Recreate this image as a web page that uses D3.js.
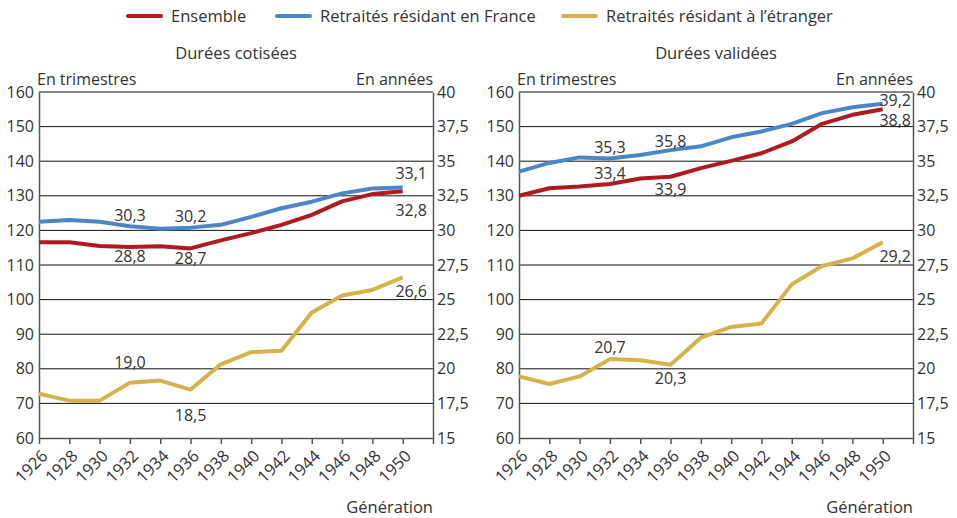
<!DOCTYPE html>
<html>
<head>
<meta charset="utf-8">
<script src="https://cdn.jsdelivr.net/npm/d3@7"></script>
<style>
  body { margin: 0; background: #fff; }
  svg text { font-family: "Open Sans", sans-serif; fill: #333; }
</style>
</head>
<body>
<div id="chart"></div>
<script>
// generations
var years = [1926, 1928, 1930, 1932, 1934, 1936, 1938, 1940, 1942, 1944, 1946, 1948, 1950];

// Durées cotisées (en trimestres)
var cot_ensemble = [116.6, 116.6, 115.5, 115.2, 115.4, 114.8, 117.1, 119.2, 121.6, 124.5, 128.4, 130.5, 131.3];
var cot_france   = [122.5, 123.0, 122.5, 121.2, 120.5, 120.8, 121.6, 123.9, 126.4, 128.3, 130.7, 132.1, 132.4];
var cot_etranger = [72.8, 70.8, 70.8, 76.0, 76.6, 74.0, 81.3, 84.8, 85.2, 96.3, 101.2, 102.8, 106.4];

// Durées validées (en trimestres)
var val_ensemble = [130.0, 132.2, 132.7, 133.4, 135.0, 135.5, 138.0, 140.1, 142.3, 145.7, 150.8, 153.4, 155.0];
var val_france   = [137.0, 139.5, 141.1, 140.8, 141.8, 143.2, 144.3, 146.9, 148.6, 150.8, 153.9, 155.6, 156.6];
var val_etranger = [77.8, 75.6, 77.8, 82.8, 82.5, 81.2, 89.0, 92.1, 93.1, 104.4, 109.7, 111.9, 116.6];

var yTicksLeft = [60, 70, 80, 90, 100, 110, 120, 130, 140, 150, 160];
var yTicksRight = ["15", "17,5", "20", "22,5", "25", "27,5", "30", "32,5", "35", "37,5", "40"];

var seriesNames = ["Ensemble", "Retraités résidant en France", "Retraités résidant à l’étranger"];
var colors = ["#b0191e", "#4a86c8", "#d5b24a"];

// value labels (in years): [series index, generation, text]
var cot_labels = [
  [1, 1932, "30,3"], [1, 1936, "30,2"], [1, 1950, "33,1"],
  [0, 1932, "28,8"], [0, 1936, "28,7"], [0, 1950, "32,8"],
  [2, 1932, "19,0"], [2, 1936, "18,5"], [2, 1950, "26,6"]
];
var val_labels = [
  [1, 1932, "35,3"], [1, 1936, "35,8"], [1, 1950, "39,2"],
  [0, 1932, "33,4"], [0, 1936, "33,9"], [0, 1950, "38,8"],
  [2, 1932, "20,7"], [2, 1936, "20,3"], [2, 1950, "29,2"]
];
// baseline offset from the line, in px, same order as the labels
var cot_dy = [-5, -6, -8, 15, 16, 25, -15, 31, 20];
var val_dy = [-5, -3, 2, -5, 18, 17, -6, 19, 20];

var W = 957, H = 518;
var fs = "16px";
var svg = d3.select("#chart").append("svg")
  .attr("width", W)
  .attr("height", H);

// legend
var legendX = [128, 277, 563];
seriesNames.forEach(function(name, i) {
  var g = svg.append("g").attr("transform", "translate(" + legendX[i] + ",16)");
  g.append("line")
    .attr("x1", 0).attr("x2", 33)
    .attr("stroke", colors[i])
    .attr("stroke-width", 4)
    .attr("stroke-linecap", "round");
  g.append("text")
    .attr("x", 43)
    .attr("dy", "0.36em")
    .style("font-size", "16.5px")
    .text(name);
});

var plotTop = 92, plotBottom = 438;

function drawPanel(left, right, title, data, labels, dys, endPad) {
  var x = d3.scaleLinear().domain([1926, 1952]).range([left, right]);
  var y = d3.scaleLinear().domain([60, 160]).range([plotBottom, plotTop]);

  var g = svg.append("g");

  g.append("text")
    .attr("x", (left + right) / 2)
    .attr("y", 59)
    .attr("text-anchor", "middle")
    .style("font-size", "16.5px")
    .text(title);

  g.append("text")
    .attr("x", left - 2)
    .attr("y", 85)
    .style("font-size", fs)
    .text("En trimestres");

  g.append("text")
    .attr("x", right)
    .attr("y", 85)
    .attr("text-anchor", "end")
    .style("font-size", fs)
    .text("En années");

  // gridlines
  g.selectAll(".grid")
    .data(yTicksLeft.slice(1))
    .enter()
    .append("line")
      .attr("x1", left).attr("x2", right)
      .attr("y1", function(d) { return y(d); })
      .attr("y2", function(d) { return y(d); })
      .attr("stroke", "#111")
      .attr("stroke-width", 1);

  // left axis
  var la = g.append("g")
    .attr("transform", "translate(" + left + ",0)")
    .call(d3.axisLeft(y).tickValues(yTicksLeft).tickSize(0).tickPadding(5));
  la.select(".domain").attr("stroke", "#555").attr("stroke-width", 1.5);
  la.selectAll("text").style("font-size", fs).attr("fill", "#333");

  // right axis
  var ra = g.append("g")
    .attr("transform", "translate(" + right + ",0)")
    .call(d3.axisRight(y).tickValues(yTicksLeft).tickSize(0).tickPadding(4)
      .tickFormat(function(d, i) { return yTicksRight[i]; }));
  ra.select(".domain").attr("stroke", "#555").attr("stroke-width", 1.5);
  ra.selectAll("text").style("font-size", fs).attr("fill", "#333");

  // bottom axis
  var ba = g.append("g")
    .attr("transform", "translate(0," + plotBottom + ")")
    .call(d3.axisBottom(x).tickValues(years.concat([1952])).tickSize(6).tickSizeOuter(0)
      .tickFormat(function(d) { return d === 1952 ? "" : d; }));
  ba.select(".domain").attr("stroke", "#555").attr("stroke-width", 1.5);
  ba.selectAll(".tick line").attr("stroke", "#555").attr("stroke-width", 1.5);
  ba.selectAll("text")
    .style("font-size", "16.5px")
    .attr("fill", "#333")
    .attr("x", 0)
    .attr("y", 0)
    .attr("dy", "0.35em")
    .style("text-anchor", "end")
    .attr("transform", "translate(5,15) rotate(-45)");

  g.append("text")
    .attr("x", right)
    .attr("y", 513)
    .attr("text-anchor", "end")
    .style("font-size", "16.5px")
    .text("Génération");

  var line = d3.line()
    .x(function(d, i) { return x(years[i]); })
    .y(function(d) { return y(d); });

  [2, 0, 1].forEach(function(s) {
    g.append("path")
      .datum(data[s])
      .attr("fill", "none")
      .attr("stroke", colors[s])
      .attr("stroke-width", 4)
      .attr("stroke-linejoin", "round")
      .attr("d", line);
  });

  labels.forEach(function(l, i) {
    var v = data[l[0]][years.indexOf(l[1])];
    var xx = x(l[1]);
    var anchor = "middle";
    if (l[1] === 1950) { xx = right - endPad; anchor = "end"; }
    g.append("text")
      .attr("x", xx)
      .attr("y", y(v) + dys[i])
      .attr("text-anchor", anchor)
      .style("font-size", fs)
      .text(l[2]);
  });
}

drawPanel(39, 433, "Durées cotisées", [cot_ensemble, cot_france, cot_etranger], cot_labels, cot_dy, 6);
drawPanel(519, 913, "Durées validées", [val_ensemble, val_france, val_etranger], val_labels, val_dy, 2);
</script>
</body>
</html>
